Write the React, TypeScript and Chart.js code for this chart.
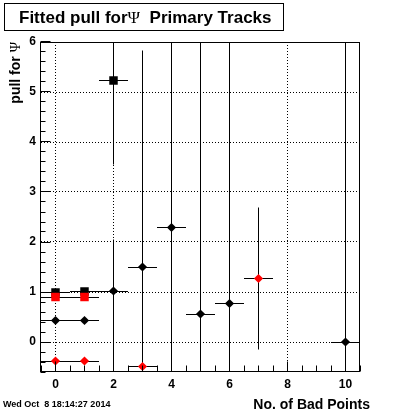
import React, { useEffect, useRef } from "react";
import { Chart, registerables } from "chart.js";
Chart.register(...registerables);

// ---- text ----
const titleMain = "Fitted pull for";
const titleSymbol = "\u03A8";
const titleRest = "  Primary Tracks";
const yTitleMain = "pull for ";
const yTitleSymbol = "\u03A8";
const xTitle = "No. of Bad Points";
const timeStamp = "Wed Oct  8 18:14:27 2014";

// ---- axes ----
const xMin = -0.5;
const xMax = 10.5;
const yMin = -0.6;
const yMax = 6;
const xTicks = [0, 2, 4, 6, 8, 10];
const xTickLabels = ["0", "2", "4", "6", "8", "10"];
const yTicks = [0, 1, 2, 3, 4, 5, 6];
const yTickLabels = ["0", "1", "2", "3", "4", "5", "6"];
const xMinorStep = 0.5;
const yMinorStep = 0.2;

// ---- series ----
const xErr = 0.5;

const blackSquareX = [0, 1, 2];
const blackSquareY = [0.99, 1.01, 5.23];
const blackSquareErrLow = [0.02, 0.02, 1.68];
const blackSquareErrHigh = [0.02, 0.02, 1.68];

const redSquareX = [0, 1];
const redSquareY = [0.9, 0.9];
const redSquareErrLow = [0.02, 0.02];
const redSquareErrHigh = [0.02, 0.02];

const blackDiamondX = [0, 1, 2, 3, 4, 5, 6, 10];
const blackDiamondY = [0.43, 0.43, 1.02, 1.5, 2.29, 0.56, 0.77, 0.0];
const blackDiamondErrLow = [0.02, 0.02, 2.0, 4.33, 6.0, 6.0, 6.0, 6.0];
const blackDiamondErrHigh = [0.02, 0.02, 1.03, 4.33, 6.0, 6.0, 6.0, 6.0];

const redDiamondX = [0, 1, 3, 7];
const redDiamondY = [-0.38, -0.38, -0.49, 1.27];
const redDiamondErrLow = [0.02, 0.02, 0.02, 1.42];
const redDiamondErrHigh = [0.02, 0.02, 0.02, 1.42];

const SANS = '"Liberation Sans", Arial, sans-serif';
const SERIF = '"Liberation Serif", "Times New Roman", serif';

type Series = { x: number[]; y: number[]; lo: number[]; hi: number[] };
const allSeries: Series[] = [
  { x: blackSquareX, y: blackSquareY, lo: blackSquareErrLow, hi: blackSquareErrHigh },
  { x: redSquareX, y: redSquareY, lo: redSquareErrLow, hi: redSquareErrHigh },
  { x: blackDiamondX, y: blackDiamondY, lo: blackDiamondErrLow, hi: blackDiamondErrHigh },
  { x: redDiamondX, y: redDiamondY, lo: redDiamondErrLow, hi: redDiamondErrHigh },
];

const snap = (v: number) => Math.floor(v) + 0.5;

const rootPlugin = {
  id: "rootDecor",
  beforeDatasetsDraw(chart: any) {
    const { ctx, chartArea: a, scales } = chart;
    const xs = scales.x;
    const ys = scales.y;
    ctx.save();
    ctx.beginPath();
    ctx.rect(a.left, a.top, a.right - a.left, a.bottom - a.top);
    ctx.clip();
    ctx.strokeStyle = "#000";
    ctx.lineWidth = 1;
    ctx.setLineDash([]);
    for (const s of allSeries) {
      for (let i = 0; i < s.x.length; i++) {
        const px = xs.getPixelForValue(s.x[i]);
        const py = ys.getPixelForValue(s.y[i]);
        const x1 = xs.getPixelForValue(s.x[i] - xErr);
        const x2 = xs.getPixelForValue(s.x[i] + xErr);
        const y1 = ys.getPixelForValue(s.y[i] - s.lo[i]);
        const y2 = ys.getPixelForValue(s.y[i] + s.hi[i]);
        ctx.beginPath();
        ctx.moveTo(x1, snap(py));
        ctx.lineTo(x2, snap(py));
        ctx.moveTo(snap(px), y1);
        ctx.lineTo(snap(px), y2);
        ctx.stroke();
      }
    }
    ctx.restore();
  },
  afterDraw(chart: any) {
    const { ctx, chartArea: a, scales } = chart;
    const xs = scales.x;
    const ys = scales.y;
    ctx.save();
    ctx.strokeStyle = "#000";
    ctx.fillStyle = "#000";
    ctx.lineWidth = 1;
    ctx.setLineDash([]);
    // frame
    const L = Math.round(a.left) - 0.5;
    const T = Math.round(a.top) + 0.5;
    const R = Math.round(a.right) - 0.5;
    const B = Math.round(a.bottom) - 0.5;
    ctx.strokeRect(L, T, R - L, B - T);
    // x ticks (inside)
    ctx.beginPath();
    for (let v = xMin; v <= xMax + 1e-9; v += xMinorStep) {
      const isMajor = xTicks.some((t) => Math.abs(t - v) < 1e-6);
      const px = snap(xs.getPixelForValue(v));
      ctx.moveTo(px, B);
      ctx.lineTo(px, B - (isMajor ? 10 : 6));
    }
    // y ticks (inside)
    for (let v = yMin; v <= yMax + 1e-9; v += yMinorStep) {
      const isMajor = yTicks.some((t) => Math.abs(t - v) < 1e-6);
      const py = snap(ys.getPixelForValue(v));
      ctx.moveTo(L, py);
      ctx.lineTo(L + (isMajor ? 10 : 5), py);
    }
    ctx.stroke();

    // title box
    ctx.strokeRect(4.5, 3.5, 279, 27);
    ctx.textBaseline = "alphabetic";
    ctx.textAlign = "left";
    let tx = 19;
    const tBase = 23;
    ctx.font = `bold 17px ${SANS}`;
    ctx.fillText(titleMain, tx, tBase);
    tx += ctx.measureText(titleMain).width;
    ctx.font = `17px ${SERIF}`;
    ctx.fillText(titleSymbol, tx, tBase);
    tx += ctx.measureText(titleSymbol).width;
    ctx.font = `bold 17px ${SANS}`;
    ctx.fillText(titleRest, tx, tBase);

    // x title
    ctx.font = `bold 14px ${SANS}`;
    ctx.textAlign = "right";
    ctx.fillText(xTitle, 370, 409);

    // y title (rotated, right-aligned at top)
    ctx.save();
    ctx.translate(20, 42);
    ctx.rotate(-Math.PI / 2);
    ctx.textAlign = "left";
    ctx.font = `14px ${SERIF}`;
    const symW = ctx.measureText(yTitleSymbol).width;
    ctx.font = `bold 14px ${SANS}`;
    const mainW = ctx.measureText(yTitleMain).width;
    ctx.fillText(yTitleMain, -(symW + mainW), 0);
    ctx.font = `14px ${SERIF}`;
    ctx.fillText(yTitleSymbol, -symW, 0);
    ctx.restore();

    // timestamp
    ctx.font = `bold 9px ${SANS}`;
    ctx.textAlign = "left";
    ctx.fillText(timeStamp, 3, 407);
    ctx.restore();
  },
};

export default function App() {
  const ref = useRef<HTMLCanvasElement | null>(null);
  useEffect(() => {
    if (!ref.current) return;
    const mk = (xv: number[], yv: number[]) => xv.map((x, i) => ({ x, y: yv[i] }));
    const chart = new Chart(ref.current, {
      type: "scatter",
      data: {
        datasets: [
          {
            data: mk(redDiamondX, redDiamondY),
            pointStyle: "rectRot",
            pointRadius: 4.6,
            backgroundColor: "#ff0000",
            borderWidth: 0,
          },
          {
            data: mk(blackDiamondX, blackDiamondY),
            pointStyle: "rectRot",
            pointRadius: 4.6,
            backgroundColor: "#000000",
            borderWidth: 0,
          },
          {
            data: mk(redSquareX, redSquareY),
            pointStyle: "rect",
            pointRadius: 6,
            backgroundColor: "#ff0000",
            borderWidth: 0,
          },
          {
            data: mk(blackSquareX, blackSquareY),
            pointStyle: "rect",
            pointRadius: 6,
            backgroundColor: "#000000",
            borderWidth: 0,
          },
        ],
      } as any,
      options: {
        responsive: false,
        animation: false,
        devicePixelRatio: 1,
        events: [],
        layout: { padding: { left: 0, right: 40, top: 42, bottom: 0 } },
        plugins: {
          legend: { display: false },
          title: { display: false },
          tooltip: { enabled: false },
        },
        scales: {
          x: {
            type: "linear",
            min: xMin,
            max: xMax,
            afterBuildTicks: (s: any) => {
              s.ticks = xTicks.map((v) => ({ value: v }));
            },
            afterFit: (s: any) => {
              s.height = 42;
            },
            ticks: {
              color: "#000",
              font: { family: SANS, weight: "bold", size: 12 },
              padding: 5,
              autoSkip: false,
              maxRotation: 0,
              callback: (v: any) => xTickLabels[xTicks.indexOf(Number(v))] ?? "",
            },
            grid: { color: "#000", lineWidth: 1, drawTicks: false },
            border: { display: false, dash: [1, 2] },
          },
          y: {
            type: "linear",
            min: yMin,
            max: yMax,
            afterBuildTicks: (s: any) => {
              s.ticks = yTicks.map((v) => ({ value: v }));
            },
            afterFit: (s: any) => {
              s.width = 41;
            },
            ticks: {
              color: "#000",
              font: { family: SANS, weight: "bold", size: 12 },
              padding: 5,
              autoSkip: false,
              callback: (v: any) => yTickLabels[yTicks.indexOf(Number(v))] ?? "",
            },
            grid: { color: "#000", lineWidth: 1, drawTicks: false },
            border: { display: false, dash: [1, 2] },
          },
        },
      } as any,
      plugins: [rootPlugin],
    });
    return () => chart.destroy();
  }, []);
  return (
    <div style={{ position: "fixed", left: 0, top: 0, width: 400, height: 414, background: "#fff" }}>
      <canvas ref={ref} width={400} height={414} style={{ display: "block", width: 400, height: 414 }} />
    </div>
  );
}
